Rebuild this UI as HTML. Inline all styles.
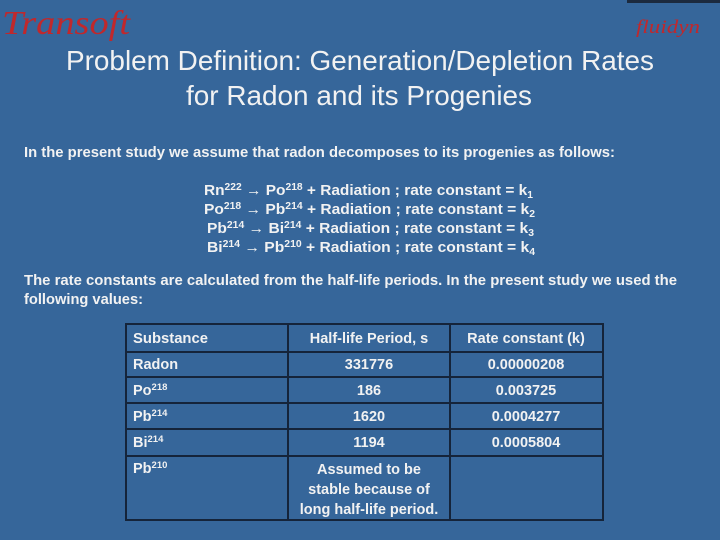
<!DOCTYPE html>
<html><head><meta charset="utf-8"><style>
html,body{margin:0;padding:0;}
body{width:720px;height:540px;background:#36669a;overflow:hidden;}
svg{display:block;}
text{font-family:"Liberation Sans",sans-serif;fill:#f2f2f2;}
.b{font-weight:bold;}
</style></head><body>
<svg width="720" height="540" viewBox="0 0 720 540">
<rect x="0" y="0" width="720" height="540" fill="#36669a"/>
<rect x="627" y="0" width="93" height="3" fill="#1c2a3e"/>
<text x="2" y="34" style="font-family:'Liberation Serif',serif;font-style:italic;font-size:34px;fill:#c0282c" textLength="128" lengthAdjust="spacingAndGlyphs">Transoft</text>
<text x="636" y="33" style="font-family:'Liberation Serif',serif;font-style:italic;font-size:19px;fill:#c0282c" textLength="64" lengthAdjust="spacingAndGlyphs">fluidyn</text>
<g>
<text x="66" y="70" font-size="28" textLength="588" lengthAdjust="spacingAndGlyphs">Problem Definition: Generation/Depletion Rates</text>
<text x="186" y="105" font-size="28" textLength="346" lengthAdjust="spacingAndGlyphs">for Radon and its Progenies</text>
</g>
<text class="b" x="24" y="157" font-size="15" textLength="591" lengthAdjust="spacingAndGlyphs">In the present study we assume that radon decomposes to its progenies as follows:</text>
<g class="b" font-size="15">
<text x="204" y="195" textLength="329" lengthAdjust="spacingAndGlyphs">Rn<tspan font-size="10" dy="-5">222</tspan><tspan dy="5"> → Po</tspan><tspan font-size="10" dy="-5">218</tspan><tspan dy="5"> + Radiation ;  rate constant = k</tspan><tspan font-size="10" dy="3">1</tspan></text>
<text x="204" y="214" textLength="331" lengthAdjust="spacingAndGlyphs">Po<tspan font-size="10" dy="-5">218</tspan><tspan dy="5"> → Pb</tspan><tspan font-size="10" dy="-5">214</tspan><tspan dy="5"> + Radiation ;  rate constant = k</tspan><tspan font-size="10" dy="3">2</tspan></text>
<text x="207" y="233" textLength="327" lengthAdjust="spacingAndGlyphs">Pb<tspan font-size="10" dy="-5">214</tspan><tspan dy="5"> → Bi</tspan><tspan font-size="10" dy="-5">214</tspan><tspan dy="5"> + Radiation ;  rate constant = k</tspan><tspan font-size="10" dy="3">3</tspan></text>
<text x="207" y="252" textLength="328" lengthAdjust="spacingAndGlyphs">Bi<tspan font-size="10" dy="-5">214</tspan><tspan dy="5"> → Pb</tspan><tspan font-size="10" dy="-5">210</tspan><tspan dy="5"> + Radiation ;  rate constant = k</tspan><tspan font-size="10" dy="3">4</tspan></text>
</g>
<g class="b" font-size="15">
<text x="24" y="285" textLength="653" lengthAdjust="spacingAndGlyphs">The rate constants are calculated from the half-life periods. In the present study we used the</text>
<text x="24" y="304" textLength="119" lengthAdjust="spacingAndGlyphs">following values:</text>
</g>
<g stroke="#15243a" stroke-width="2" fill="none">
<rect x="126" y="324" width="477" height="196"/>
<line x1="288" y1="324" x2="288" y2="520"/>
<line x1="450" y1="324" x2="450" y2="520"/>
<line x1="126" y1="352" x2="603" y2="352"/>
<line x1="126" y1="377" x2="603" y2="377"/>
<line x1="126" y1="403" x2="603" y2="403"/>
<line x1="126" y1="429" x2="603" y2="429"/>
<line x1="126" y1="456" x2="603" y2="456"/>
</g>
<g class="b" font-size="14.5">
<text x="133" y="343" textLength="75" lengthAdjust="spacingAndGlyphs">Substance</text>
<text x="369" y="343" text-anchor="middle">Half-life Period, s</text>
<text x="526" y="343" text-anchor="middle">Rate constant (k)</text>
<text x="133" y="369">Radon</text>
<text x="369" y="369" text-anchor="middle">331776</text>
<text x="526" y="369" text-anchor="middle">0.00000208</text>
<text x="133" y="395">Po<tspan font-size="9.5" dy="-5">218</tspan></text>
<text x="369" y="395" text-anchor="middle">186</text>
<text x="526" y="395" text-anchor="middle">0.003725</text>
<text x="133" y="421">Pb<tspan font-size="9.5" dy="-5">214</tspan></text>
<text x="369" y="421" text-anchor="middle">1620</text>
<text x="526" y="421" text-anchor="middle">0.0004277</text>
<text x="133" y="447">Bi<tspan font-size="9.5" dy="-5">214</tspan></text>
<text x="369" y="447" text-anchor="middle">1194</text>
<text x="526" y="447" text-anchor="middle">0.0005804</text>
<text x="133" y="473">Pb<tspan font-size="9.5" dy="-5">210</tspan></text>
<text x="369" y="474" text-anchor="middle">Assumed to be</text>
<text x="369" y="494" text-anchor="middle">stable because of</text>
<text x="369" y="514" text-anchor="middle">long half-life period.</text>
</g>
</svg>
</body></html>
